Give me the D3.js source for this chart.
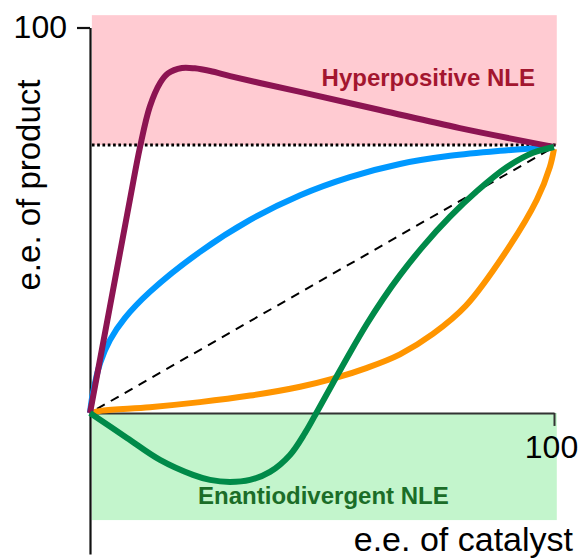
<!DOCTYPE html>
<html><head><meta charset="utf-8">
<script src="https://cdn.jsdelivr.net/npm/d3@7"></script>
<style>body{margin:0;background:#fff}svg{display:block}</style>
</head><body>
<svg id="chart" width="581" height="558"></svg>
<script>
// ---- data ----
const xTickValues = [100];
const yTickValues = [100];
const xLabel = "e.e. of catalyst";
const yLabel = "e.e. of product";
const regionX = [0.4, 100.6];
const hyperBand = [69.5, 103.2];
const enantioBand = [-27.8, 0];
const thresholdLevel = 69.5;
const diagonal = [[0, 0], [100, 69]];
const hyperpositive = [[0,0],[4.3,27.6],[8.6,55.3],[10.8,69.1],[12.9,79.5],[15.1,85.6],[16.8,88.1],[19.8,89.5],[22.6,89.4],[25.9,88.7],[30.2,87.4],[36.6,85.6],[45.3,83.3],[62.5,78.6],[79.7,73.9],[100,69]];
const positive = [[0,0],[0.6,5],[2.2,13],[4.3,18.9],[7.5,24.6],[12.9,31.4],[23.7,41.8],[34.5,50.1],[45.3,56.5],[56,61.2],[66.8,64.6],[77.6,66.7],[88.4,68],[100,69]];
const negative = [[0,0],[2.6,0.6],[12.9,1.5],[23.7,2.8],[34.5,4.5],[45.3,6.8],[52.4,8.9],[59.7,11.7],[66.8,15.2],[73.9,20.5],[81,27.8],[89.9,42.3],[96.3,55.3],[99.1,63.8],[100,68.5]];
const enantiodivergent = [[0,0],[7.97,-6.49],[15.09,-12.19],[22.2,-16.08],[25.86,-17.38],[30.17,-17.9],[34.48,-17.38],[38.79,-15.3],[43.1,-10.9],[46.34,-5.19],[49.14,0.78],[52.37,7.78],[56.03,15.64],[59.7,23.14],[63.15,29.57],[66.81,35.75],[71.77,43.22],[77.59,50.92],[83.41,57.56],[89.87,63.79],[95.47,67.5],[100,69]];
const regionLabels = ["Hyperpositive NLE", "Enantiodivergent NLE"];
const regionLabelPos = [[72.9, 84.8], [50.3, -23.6]];

// ---- chart ----
const svg = d3.select("#chart");
const font = "'Liberation Sans', Arial, Helvetica, sans-serif";
const x = d3.scaleLinear().domain([0, 100]).range([90, 554]);
const y = d3.scaleLinear().domain([-36.6, 100]).range([554, 27.5]);

svg.append("rect")
  .attr("x", x(regionX[0])).attr("width", x(regionX[1]) - x(regionX[0]))
  .attr("y", y(hyperBand[1])).attr("height", y(hyperBand[0]) - y(hyperBand[1]))
  .attr("fill", "#ffcbd2");
svg.append("rect")
  .attr("x", x(regionX[0])).attr("width", x(regionX[1]) - x(regionX[0]))
  .attr("y", y(enantioBand[1])).attr("height", y(enantioBand[0]) - y(enantioBand[1]))
  .attr("fill", "#c3f5cc");

svg.append("line")
  .attr("x1", x(regionX[0])).attr("x2", x(regionX[1]))
  .attr("y1", y(thresholdLevel)).attr("y2", y(thresholdLevel))
  .attr("stroke", "#000").attr("stroke-width", 3)
  .attr("stroke-dasharray", "2.7,2.6");

const line = d3.line().x(d => x(d[0])).y(d => y(d[1])).curve(d3.curveCatmullRom.alpha(0.5));

svg.append("path").attr("d", d3.line().x(d => x(d[0])).y(d => y(d[1]))(diagonal))
  .attr("fill", "none").attr("stroke", "#000").attr("stroke-width", 2)
  .attr("stroke-dasharray", "9,7").attr("stroke-dashoffset", -8);

// axes
const xAxis = d3.axisBottom(x).tickValues(xTickValues).tickSizeInner(13).tickSizeOuter(0).tickPadding(9);
const yAxis = d3.axisLeft(y).tickValues(yTickValues).tickSizeInner(13).tickSizeOuter(0).tickPadding(10);
const gx = svg.append("g").attr("transform", `translate(0,${y(0)})`).call(xAxis);
const gy = svg.append("g").attr("transform", `translate(${x(0)},0)`).call(yAxis);
[gx, gy].forEach(g => {
  g.selectAll("path,line").attr("stroke", "#111").attr("stroke-width", 2.2);
  g.selectAll("text").attr("font-family", font).attr("font-size", 32).attr("fill", "#000");
});
gx.select("path").attr("stroke", "#333").attr("stroke-width", 2);
gx.selectAll(".tick line").attr("stroke", "#333").attr("stroke-width", 2);
gx.selectAll("text").attr("dx", -3);

const series = [
  {data: negative, color: "#ff9500"},
  {data: positive, color: "#0098ff"},
  {data: hyperpositive, color: "#8c1452"},
  {data: enantiodivergent, color: "#008a49"}
];
series.forEach(s => {
  svg.append("path").attr("d", line(s.data))
    .attr("fill", "none").attr("stroke", s.color).attr("stroke-width", 6)
    .attr("stroke-linejoin", "round");
});

svg.append("text").attr("x", x(regionLabelPos[0][0])).attr("y", y(regionLabelPos[0][1]))
  .attr("text-anchor", "middle").attr("font-family", font).attr("font-weight", "bold")
  .attr("font-size", 24).attr("fill", "#a3162f").text(regionLabels[0]);
svg.append("text").attr("x", x(regionLabelPos[1][0])).attr("y", y(regionLabelPos[1][1]))
  .attr("text-anchor", "middle").attr("font-family", font).attr("font-weight", "bold")
  .attr("font-size", 24).attr("fill", "#1b6d28").text(regionLabels[1]);

svg.append("text").attr("x", 573).attr("y", 551).attr("text-anchor", "end")
  .attr("font-family", font).attr("font-size", 34).attr("fill", "#000").text(xLabel);
svg.append("text").attr("transform", "translate(40,185) rotate(-90)").attr("text-anchor", "middle")
  .attr("font-family", font).attr("font-size", 33).attr("fill", "#000").text(yLabel);
</script>
</body></html>
